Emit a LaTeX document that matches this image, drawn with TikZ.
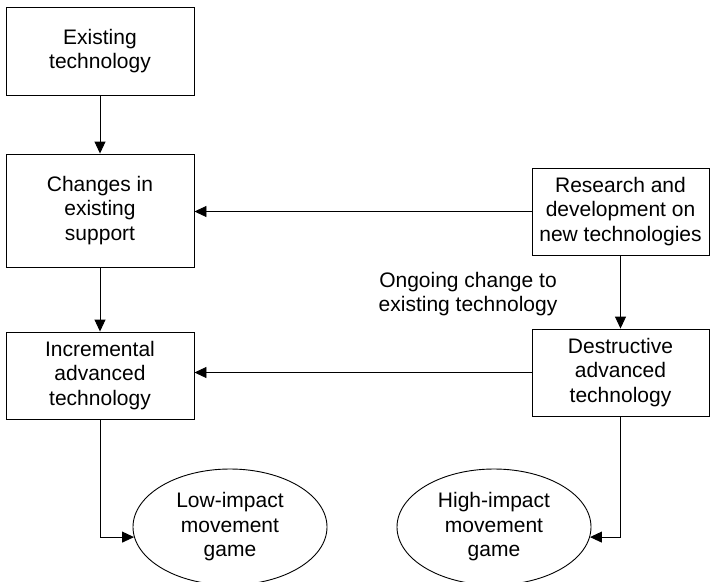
\documentclass[tikz,border=0pt]{standalone}
\usepackage{fontspec}
\setmainfont{Liberation Sans}
\usetikzlibrary{arrows.meta,shapes.geometric}
\begin{document}
\begin{tikzpicture}[x=1pt,y=-1pt,
  every node/.style={font=\fontsize{21}{24.5}\selectfont, align=center, inner sep=0pt},
  box/.style={draw, line width=0.9pt, minimum width=188pt},
  rbox/.style={draw, line width=0.9pt, minimum width=177pt},
  oval/.style={draw, ellipse, line width=0.9pt, minimum width=194pt, minimum height=116pt},
  flow/.style={line width=0.9pt, -{Triangle[length=12pt,width=11pt]}}]
\useasboundingbox (0,0) rectangle (711,581);

% left column
\node[box, minimum height=88pt]  (b1) at (100,51)    {Existing\\technology};
\node[box, minimum height=113pt] (b2) at (100,210.5) {Changes in\\existing\\support};
\node[box, minimum height=87pt]  (b3) at (100,375.5) {Incremental\\advanced\\technology};

% right column
\node[rbox, minimum height=87pt] (b4) at (620.5,211.5) {Research and\\development on\\new technologies};
\node[rbox, minimum height=87pt] (b5) at (620.5,372.5) {Destructive\\advanced\\technology};

% outcomes
\node[oval] (e1) at (230,527) {Low-impact\\movement\\game};
\node[oval] (e2) at (494,527) {High-impact\\movement\\game};

\node (lbl) at (468,294) {Ongoing change to\\existing technology};

% connectors
\draw[flow] (b1.south) -- (b2.north);
\draw[flow] (b2.south) -- (b3.north);
\draw[flow] (b4.south) -- (b5.north);
\draw[flow] (b4.west) -- (b2.east |- b4.west);
\draw[flow] (b5.west) -- (b3.east |- b5.west);
\draw[flow] (b3.south) |- (e1.186);
\draw[flow] (b5.south) |- (e2.354);
\end{tikzpicture}
\end{document}
